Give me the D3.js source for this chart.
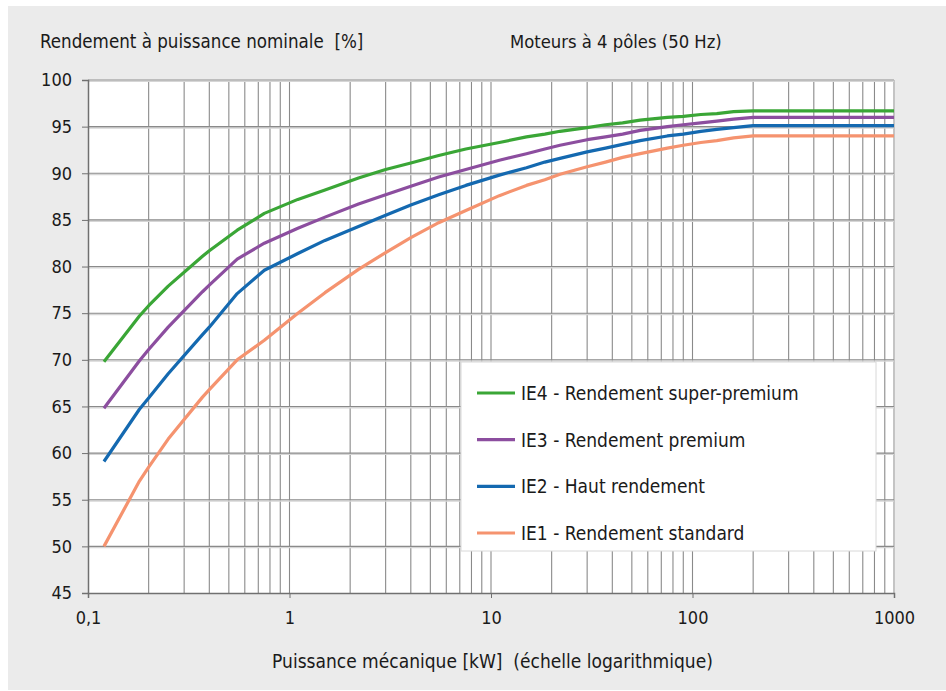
<!DOCTYPE html>
<html><head><meta charset="utf-8">
<script src="https://cdn.jsdelivr.net/npm/d3@7"></script>
<style>
html,body{margin:0;padding:0;background:#fff;}
text{font-family:"Liberation Sans Narrow","Arial Narrow","DejaVu Sans Condensed",sans-serif;fill:#1a1a1a;white-space:pre;}
</style></head>
<body>
<svg id="c" width="946" height="691"></svg>
<script>
const powerKW = [0.12,0.18,0.2,0.25,0.37,0.4,0.55,0.75,1.1,1.5,2.2,3,4,5.5,7.5,11,15,18.5,22,30,37,45,55,75,90,110,132,160,200,1000];
const ie1 = [50.0,57.0,58.5,61.5,66.0,66.8,70.0,72.1,75.0,77.2,79.7,81.5,83.1,84.7,86.0,87.6,88.7,89.3,89.9,90.7,91.2,91.7,92.1,92.7,93.0,93.3,93.5,93.8,94.0,94.0];
const ie2 = [59.1,64.7,65.9,68.5,72.7,73.5,77.1,79.6,81.4,82.8,84.3,85.5,86.6,87.7,88.7,89.8,90.6,91.2,91.6,92.3,92.7,93.1,93.5,94.0,94.2,94.5,94.7,94.9,95.1,95.1];
const ie3 = [64.8,69.9,71.1,73.5,77.3,78.0,80.8,82.5,84.1,85.3,86.7,87.7,88.6,89.6,90.4,91.4,92.1,92.6,93.0,93.6,93.9,94.2,94.6,95.0,95.2,95.4,95.6,95.8,96.0,96.0];
const ie4 = [69.8,74.7,75.8,77.9,81.1,81.7,83.9,85.7,87.2,88.2,89.5,90.4,91.1,91.9,92.6,93.3,93.9,94.2,94.5,94.9,95.2,95.4,95.7,96.0,96.1,96.3,96.4,96.6,96.7,96.7];
const seriesNames = ["IE4 - Rendement super-premium","IE3 - Rendement premium","IE2 - Haut rendement","IE1 - Rendement standard"];
const seriesValues = [ie4, ie3, ie2, ie1];
const seriesColors = ["#3aa636","#8c4e9f","#1469b0","#f5936f"];
const yTicks = [45,50,55,60,65,70,75,80,85,90,95,100];
const xTickValues = [0.1,1,10,100,1000];
const xTickLabels = ["0,1","1","10","100","1000"];
const titleLeft = "Rendement à puissance nominale  [%]";
const titleRight = "Moteurs à 4 pôles (50 Hz)";
const xTitle = "Puissance mécanique [kW]  (échelle logarithmique)";

const svg = d3.select("#c");
svg.append("rect").attr("x",8).attr("y",6).attr("width",938).attr("height",684).attr("fill","#ebebeb");

const L=88, R=894, T=80, B=593;
const x = d3.scaleLog().domain([0.1,1000]).range([L,R]);
const y = d3.scaleLinear().domain([45,100]).range([B,T]);

svg.append("rect").attr("x",L).attr("y",T).attr("width",R-L).attr("height",B-T).attr("fill","#fff");

// vertical grid (log minor)
const vgrid = [];
for (let d=0.1; d<1000; d*=10) for (let k=1;k<=9;k++) vgrid.push(+(d*k).toPrecision(3));
vgrid.push(1000);
svg.append("g").selectAll("line").data(vgrid.filter(v=>v>0.1)).join("line")
  .attr("x1",d=>x(d)).attr("x2",d=>x(d)).attr("y1",T).attr("y2",B)
  .attr("stroke",d=>d===1000?"#c4c4c4":"#8a8a8a").attr("stroke-width",d=>d===1000?2:1.1);

// horizontal grid
const hg = svg.append("g");
hg.selectAll("line.s").data(yTicks.filter(v=>v>45)).join("line").attr("class","s")
  .attr("x1",L).attr("x2",R).attr("y1",d=>y(d)+1.2).attr("y2",d=>y(d)+1.2)
  .attr("stroke","#d6d6d6").attr("stroke-width",1.6);
hg.selectAll("line.m").data(yTicks.filter(v=>v>45)).join("line").attr("class","m")
  .attr("x1",L).attr("x2",R).attr("y1",d=>y(d)).attr("y2",d=>y(d))
  .attr("stroke",d=>d===100?"#bdbdbd":"#8a8a8a").attr("stroke-width",d=>d===100?2:1.1);

// axes
const yAxis = d3.axisLeft(y).tickValues(yTicks).tickSize(6).tickPadding(10).tickFormat(d3.format("d"));
const gy = svg.append("g").attr("transform",`translate(${L},0)`).call(yAxis);
gy.select(".domain").attr("stroke","#707070").attr("stroke-width",1.5);
gy.selectAll(".tick line").attr("stroke","#707070");
gy.selectAll(".tick text").style("font-size","18px").attr("fill","#1a1a1a");

const xAxis = d3.axisBottom(x).tickValues(xTickValues).tickSize(5).tickPadding(10).tickFormat((d,i)=>xTickLabels[i]);
const gx = svg.append("g").attr("transform",`translate(0,${B})`).call(xAxis);
gx.select(".domain").attr("stroke","#707070").attr("stroke-width",1.5);
gx.selectAll(".tick line").attr("stroke","#707070");
gx.selectAll(".tick text").style("font-size","18px").attr("fill","#1a1a1a").attr("dy","0.9em");

// lines
const line = d3.line().x((d,i)=>x(powerKW[i])).y(d=>y(d));
svg.append("g").selectAll("path").data(seriesValues).join("path")
  .attr("d",d=>line(d)).attr("fill","none")
  .attr("stroke",(d,i)=>seriesColors[i]).attr("stroke-width",3.2).attr("stroke-linejoin","round");

// legend
const lg = svg.append("g");
lg.append("rect").attr("x",461).attr("y",362).attr("width",415).attr("height",189)
  .attr("fill","#fff").attr("stroke","#d8d8d8").attr("stroke-width",1);
const ly = d3.scalePoint().domain(seriesNames).range([393,533]);
seriesNames.forEach((n,i)=>{
  lg.append("line").attr("x1",477).attr("x2",515).attr("y1",ly(n)).attr("y2",ly(n))
    .attr("stroke",seriesColors[i]).attr("stroke-width",3.2);
  lg.append("text").attr("x",521).attr("y",ly(n)).attr("dy","0.36em")
    .style("font-size","19px").text(n);
});

// titles
svg.append("text").attr("x",40).attr("y",48).style("font-size","18.6px").text(titleLeft);
svg.append("text").attr("x",510).attr("y",48).style("font-size","18.3px").text(titleRight);
svg.append("text").attr("x",(272+713)/2).attr("y",668).attr("text-anchor","middle").style("font-size","19px").text(xTitle);
</script>
</body></html>
